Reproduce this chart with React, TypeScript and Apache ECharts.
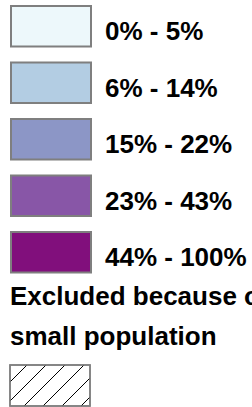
import React, { useEffect, useRef } from "react";
import * as echarts from "echarts";

const categories = ["0% - 5%", "6% - 14%", "15% - 22%", "23% - 43%", "44% - 100%"];
const colors = ["#EDF8FB", "#B3CDE3", "#8C96C6", "#8856A7", "#810F7C"];
const excludedLines = ["Excluded because of", "small population"];

const FONT = '"Liberation Sans", Arial, sans-serif';

function hatchLines(x0: number, y0: number, x1: number, y1: number, step: number, start: number) {
  const out: any[] = [];
  for (let c = start; c <= x1 + y1; c += step) {
    let ax = c - y1, ay = y1;
    if (ax < x0) { ax = x0; ay = c - x0; }
    let bx = c - y0, by = y0;
    if (bx > x1) { bx = x1; by = c - x1; }
    if (ay < y0 || by > y1 || ax > x1 || bx < x0) continue;
    out.push({
      type: "line",
      shape: { x1: ax, y1: ay, x2: bx, y2: by },
      style: { stroke: "#000", lineWidth: 1 },
      silent: true,
    });
  }
  return out;
}

export default function App() {
  const ref = useRef<HTMLDivElement>(null);
  useEffect(() => {
    if (!ref.current) return;
    const chart = echarts.init(ref.current, null, { renderer: "svg" });
    const hx = 10, hy = 365, hw = 80, hh = 41;
    chart.setOption({
      animation: false,
      backgroundColor: "#fff",
      grid: { left: 0, right: 0, top: 0, bottom: 0, show: false },
      xAxis: { type: "category", show: false, data: [] },
      yAxis: { type: "value", show: false },
      legend: {
        orient: "vertical",
        left: 10,
        top: 5,
        padding: 0,
        itemWidth: 80,
        itemHeight: 40.5,
        itemGap: 14,
        icon: "rect",
        selectedMode: false,
        data: categories,
        formatter: (name: string) => `{a|${name}}`,
        textStyle: {
          fontSize: 26,
          fontWeight: "bold",
          color: "#000",
          fontFamily: FONT,
          rich: {
            a: {
              fontSize: 26,
              fontWeight: "bold",
              color: "#000",
              fontFamily: FONT,
              padding: [10, 0, 0, 9],
            },
          },
        },
      },
      series: categories.map((name, i) => ({
        type: "bar",
        name,
        data: [],
        itemStyle: { color: colors[i], borderColor: "#7f7f7f", borderWidth: 1.5 },
      })),
      graphic: [
        ...excludedLines.map((t, i) => ({
          type: "text",
          left: 10,
          top: 283 + i * 40,
          style: { text: t, fontSize: 26, fontWeight: "bold", fill: "#000", fontFamily: FONT },
        })),
        {
          type: "rect",
          shape: { x: hx, y: hy, width: hw, height: hh },
          style: { fill: "#fff", stroke: "#7f7f7f", lineWidth: 1.5 },
        },
        ...hatchLines(hx, hy, hx + hw, hy + hh, 19, 373),
        {
          type: "rect",
          shape: { x: hx, y: hy, width: hw, height: hh },
          style: { fill: "none", stroke: "#7f7f7f", lineWidth: 1.5 },
        },
      ],
    });
    return () => chart.dispose();
  }, []);
  return (
    <div
      ref={ref}
      style={{ position: "absolute", left: 0, top: 0, width: 252, height: 407 }}
    />
  );
}
